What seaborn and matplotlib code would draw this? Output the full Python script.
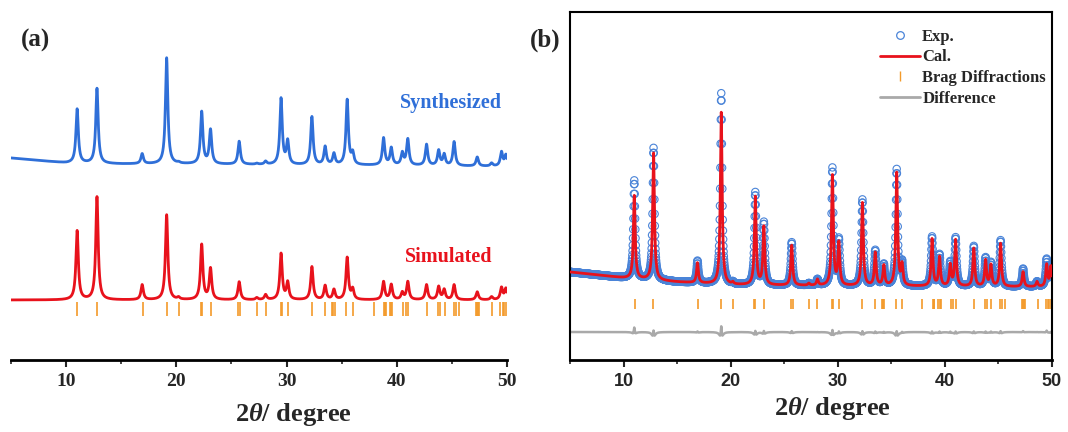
import numpy as np
import pandas as pd
import matplotlib
matplotlib.use("Agg")
import matplotlib.pyplot as plt
from matplotlib.lines import Line2D
import seaborn as sns

sns.set_theme(style="white")
plt.rcParams['font.family'] = ['Liberation Serif', 'DejaVu Serif']
plt.rcParams['mathtext.fontset'] = 'custom'
plt.rcParams['mathtext.it'] = 'Liberation Serif:italic:bold'

# ---------------- data ----------------
peak_pos = [11.0, 12.8, 16.9, 19.12, 20.2, 22.3, 23.1, 25.7, 27.3, 28.1, 29.5, 30.1,
            32.3, 33.5, 34.3, 35.5, 36.0, 38.8, 39.5, 40.5, 41.0, 42.7, 43.8, 44.3,
            45.2, 47.3, 48.6, 49.5, 49.9]
synth_h = [54, 75, 10, 106, 1, 52, 34, 23, 1, 3, 66, 23,
           48, 18, 11, 65, 11, 27, 17, 12, 26, 21, 15, 11,
           24, 9, 3, 14, 11]
sim_h = [69, 103, 15, 85, 2, 55, 31, 18, 2, 5, 46, 17,
         33, 14, 10, 42, 10, 18, 15, 7, 18, 15, 13, 10,
         15, 8, 3, 12, 11]
cal_h = [83, 127, 20, 172, 2, 88, 58, 40, 2, 6, 110, 42,
         83, 33, 20, 113, 20, 47, 29, 21, 46, 38, 26, 21,
         43, 15, 5, 22, 20]
exp_h = [98, 132, 22, 191, 2, 92, 62, 43, 2, 6, 117, 45,
         86, 35, 21, 116, 22, 49, 31, 23, 48, 40, 28, 23,
         46, 18, 5, 27, 21]

bragg_pos = [11.03, 12.78, 16.95, 19.12, 20.24, 22.2, 22.3, 23.1, 25.6, 25.8, 27.3,
             28.1, 29.5, 29.55, 30.15, 32.27, 33.47, 34.1, 34.2, 34.35, 35.4, 36.0,
             37.9, 38.85, 38.95, 39.0, 39.4, 39.5, 39.6, 40.57, 40.8, 41.0, 42.7,
             43.7, 43.9, 44.35, 45.17, 45.35, 45.65, 47.2, 47.3, 47.4, 47.5, 48.67,
             49.4, 49.6, 49.75, 49.9]

# background levels (baseline of each pattern) at anchor angles
bg_x = [5, 8, 10, 15, 20, 30, 40, 50]
synth_bg = [202, 199, 197, 196, 196, 195, 194.5, 193.5]
sim_bg = [60, 60, 60, 60, 60, 60, 60, 60]
refine_bg = [88, 84.5, 82, 78, 75, 74, 73.5, 73]

blue = "#2f6fd8"
red = "#e8121c"
orange = "#f39a2a"
grey = "#a9a9a9"
exp_blue = "#4a84d8"


def profile(x, pos, h, fwhm):
    g = fwhm / 2.0
    y = np.zeros_like(x)
    for p, a in zip(pos, h):
        y += a * g**2 / ((x - p) ** 2 + g**2)
    return y


x = np.arange(5.0, 50.0001, 0.01)
synth = np.interp(x, bg_x, synth_bg) + profile(x, peak_pos, synth_h, 0.26)
sim = np.interp(x, bg_x, sim_bg) + profile(x, peak_pos, sim_h, 0.26)

xe = np.arange(5.0, 50.0001, 0.02)
cal = np.interp(xe, bg_x, refine_bg) + profile(xe, peak_pos, cal_h, 0.2)
exp = np.interp(xe, bg_x, refine_bg) + profile(xe, peak_pos, exp_h, 0.2)
exp_narrow = np.interp(xe, bg_x, refine_bg) + profile(xe, peak_pos, exp_h, 0.16)
diff = 28 + 0.3 * (exp_narrow - cal)

df_a = pd.DataFrame({"x": x, "synth": synth, "sim": sim})
df_b = pd.DataFrame({"x": xe, "cal": cal, "exp": exp, "diff": diff})

# ---------------- figure ----------------
fig = plt.figure(figsize=(10.68, 4.32), dpi=100)
W, H = 1068, 432
axa = fig.add_axes([11 / W, 72 / H, 496 / W, 348 / H])
axb = fig.add_axes([570 / W, 72 / H, 482 / W, 348 / H])

# panel (a)
sns.lineplot(data=df_a, x="x", y="synth", ax=axa, color=blue, lw=2.0,
             sort=False, estimator=None)
sns.lineplot(data=df_a, x="x", y="sim", ax=axa, color=red, lw=2.0,
             sort=False, estimator=None)
axa.vlines(bragg_pos, 44, 58, color=orange, lw=1.2)
axa.text(451 / 496 * 45 + 5 - 11 / 496 * 45, 257, "Synthesized", color=blue,
         fontsize=14.5, fontweight="bold", ha="center", va="center")
axa.text(449 / 496 * 45 + 5 - 11 / 496 * 45, 103, "Simulated", color=red,
         fontsize=14.5, fontweight="bold", ha="center", va="center")

# panel (b)
sns.scatterplot(data=df_b, x="x", y="exp", ax=axb, marker="o", s=28,
                facecolors="none", edgecolor=exp_blue, linewidth=0.8, zorder=2)
sns.lineplot(data=df_b, x="x", y="cal", ax=axb, color=red, lw=2.0,
             sort=False, estimator=None, zorder=3)
axb.vlines(bragg_pos, 51, 61, color=orange, lw=1.2)
sns.lineplot(data=df_b, x="x", y="diff", ax=axb, color=grey, lw=1.8,
             sort=False, estimator=None)

handles = [
    Line2D([], [], ls="none", marker="o", mfc="none", mec=exp_blue, ms=5.5, mew=0.9),
    Line2D([], [], color=red, lw=2.0),
    Line2D([], [], ls="none", marker="|", color=orange, ms=7, mew=1.0),
    Line2D([], [], color=grey, lw=2.0),
]
axb.legend(handles, ["Exp.", "Cal.", "Brag Diffractions", "Difference"],
           loc="upper left", bbox_to_anchor=(0.615, 0.99), frameon=False,
           prop={"family": "Liberation Serif", "weight": "bold", "size": 12},
           handlelength=2.4, handletextpad=0.15, labelspacing=0.28, borderpad=0.3)

for ax in (axa, axb):
    ax.set_xlim(5, 50)
    ax.set_ylim(0, 348)
    ax.set_yticks([])
    ax.set_xticks([10, 20, 30, 40, 50])
    ax.set_xticks([5, 15, 25, 35, 45], minor=True)
    ax.tick_params(axis="x", which="major", direction="out", length=5, width=1.5,
                   bottom=True, pad=4)
    ax.tick_params(axis="x", which="minor", direction="out", length=3, width=1.2,
                   bottom=True)
    ax.set_ylabel("")
    ax.set_xlabel("")

for s in ["left", "top", "right"]:
    axa.spines[s].set_visible(False)
axa.spines["bottom"].set_linewidth(2.0)
axa.spines["bottom"].set_color("black")
for lab in axa.get_xticklabels():
    lab.set_fontfamily("Liberation Serif")
    lab.set_fontweight("bold")
    lab.set_fontsize(14)

for s in ["left", "top", "right", "bottom"]:
    axb.spines[s].set_visible(True)
    axb.spines[s].set_color("black")
    axb.spines[s].set_linewidth(1.5)
axb.spines["bottom"].set_linewidth(2.0)
for lab in axb.get_xticklabels():
    lab.set_fontfamily("Liberation Sans")
    lab.set_fontweight("bold")
    lab.set_fontsize(13)

xlabel = r"2$\mathit{\theta}$/ degree"
fig.text(293 / W, 1 - 414 / H, xlabel, fontsize=19, fontweight="bold",
         ha="center", va="center")
fig.text(832 / W, 1 - 409 / H, xlabel, fontsize=19, fontweight="bold",
         ha="center", va="center")

fig.text(36 / W, 1 - 40 / H, "(a)", fontsize=18, fontweight="bold",
         ha="center", va="center")
fig.text(545 / W, 1 - 40 / H, "(b)", fontsize=18, fontweight="bold",
         ha="center", va="center")

fig.savefig("out.png", dpi=100)
